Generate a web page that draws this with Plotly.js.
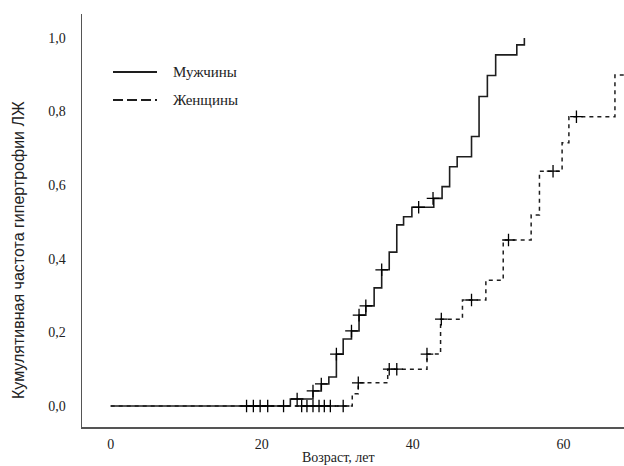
<!DOCTYPE html>
<html>
<head>
<meta charset="utf-8">
<script src="https://cdn.plot.ly/plotly-3.0.1.min.js"></script>
<style>html,body{margin:0;padding:0;background:#fff;}#chart{width:624px;height:466px;}</style>
</head>
<body>
<div id="chart"></div>
<script>
// Male cumulative curve (step points)
var maleAge = [0, 23.8, 26.8, 27.9, 28.9, 29.9, 30.8, 31.9, 32.9, 33.8, 34.9, 35.9, 36.9, 37.9, 38.8, 39.9, 42.8, 43.9, 44.9, 45.9, 47.8, 48.8, 49.9, 51.0, 53.8, 54.8];
var maleCum = [0, 0.019, 0.041, 0.060, 0.079, 0.141, 0.182, 0.204, 0.247, 0.272, 0.321, 0.370, 0.418, 0.492, 0.514, 0.540, 0.564, 0.596, 0.650, 0.677, 0.732, 0.841, 0.898, 0.954, 0.981, 1.0];
// Male censored observations
var maleCensAge = [18.0, 18.9, 19.8, 20.8, 22.9, 24.7, 26.8, 27.9, 29.9, 31.9, 32.9, 33.8, 35.9, 40.8, 42.7];
var maleCensVal = [0, 0, 0, 0, 0, 0.019, 0.041, 0.060, 0.141, 0.204, 0.247, 0.272, 0.370, 0.540, 0.564];
// Female cumulative curve (step points)
var femAge = [0, 32.0, 32.8, 36.7, 41.9, 43.7, 46.6, 49.7, 52.0, 55.7, 56.8, 59.8, 60.7, 66.8, 68.0];
var femCum = [0, 0.033, 0.063, 0.100, 0.141, 0.236, 0.288, 0.342, 0.451, 0.519, 0.638, 0.715, 0.786, 0.899, 0.899];
// Female censored observations
var femCensAge = [25.3, 26.0, 26.8, 27.6, 28.3, 29.1, 30.8, 32.8, 36.9, 37.9, 41.9, 43.8, 47.8, 52.7, 58.6, 61.7];
var femCensVal = [0, 0, 0, 0, 0, 0, 0, 0.063, 0.100, 0.100, 0.141, 0.236, 0.288, 0.451, 0.638, 0.786];

var xTickVals = [0, 20, 40, 60];
var xTickText = ["0", "20", "40", "60"];
var yTickVals = [0, 0.2, 0.4, 0.6, 0.8, 1.0];
var yTickText = ["0,0", "0,2", "0,4", "0,6", "0,8", "1,0"];
var seriesNames = ["Мужчины", "Женщины"];
var xTitle = "Возраст, лет";
var yTitle = "Кумулятивная частота гипертрофии ЛЖ";

var serif = "'Liberation Serif', 'Times New Roman', serif";
var sans = "'Liberation Sans Narrow', 'Liberation Sans', Arial, sans-serif";
var lineCol = "#1e1e1e";

var traces = [
  {x: femAge, y: femCum, type: "scatter", mode: "lines", line: {shape: "hv", color: lineCol, width: 1.5, dash: "4px,4px"}, hoverinfo: "skip"},
  {x: femCensAge, y: femCensVal, type: "scatter", mode: "markers", marker: {symbol: "cross-thin", size: 9, line: {color: "#000", width: 1.3}}, hoverinfo: "skip"},
  {x: maleAge, y: maleCum, type: "scatter", mode: "lines", line: {shape: "hv", color: lineCol, width: 1.6}, hoverinfo: "skip"},
  {x: maleCensAge, y: maleCensVal, type: "scatter", mode: "markers", marker: {symbol: "cross-thin", size: 9, line: {color: "#000", width: 1.3}}, hoverinfo: "skip"}
];

var L = 82, R = 624, T = 14, B = 427;
function px(x){ return (x - L) / (R - L); }
function py(y){ return (B - y) / (B - T); }

var layout = {
  width: 624, height: 466,
  margin: {l: L, r: 624 - R, t: T, b: 466 - B, pad: 0},
  paper_bgcolor: "#fff", plot_bgcolor: "#fff",
  showlegend: false,
  xaxis: {
    range: [-3.8, 68.0], tickvals: xTickVals, ticktext: xTickText,
    showgrid: false, zeroline: false, showline: true, linecolor: "#555", linewidth: 1.5,
    ticks: "outside", ticklen: 4, tickcolor: "rgba(0,0,0,0)",
    tickfont: {family: serif, size: 14, color: "#222"}
  },
  yaxis: {
    range: [-0.057, 1.065], tickvals: yTickVals, ticktext: yTickText,
    showgrid: false, zeroline: false, showline: true, linecolor: "#555", linewidth: 1.5,
    ticks: "outside", ticklen: 12, tickcolor: "rgba(0,0,0,0)",
    tickfont: {family: serif, size: 14, color: "#222"}
  },
  shapes: [
    {type: "line", xref: "paper", yref: "paper", x0: px(113), x1: px(157), y0: py(72), y1: py(72), line: {color: lineCol, width: 2}},
    {type: "line", xref: "paper", yref: "paper", x0: px(113), x1: px(157), y0: py(100), y1: py(100), line: {color: lineCol, width: 2, dash: "10px,4px"}}
  ],
  annotations: [
    {xref: "paper", yref: "paper", x: px(171), y: py(72), xanchor: "left", yanchor: "middle", text: seriesNames[0], showarrow: false, font: {family: serif, size: 15, color: "#222"}},
    {xref: "paper", yref: "paper", x: px(171), y: py(100), xanchor: "left", yanchor: "middle", text: seriesNames[1], showarrow: false, font: {family: serif, size: 15, color: "#222"}},
    {xref: "paper", yref: "paper", x: px(338), y: py(457), xanchor: "center", yanchor: "middle", text: xTitle, showarrow: false, font: {family: serif, size: 14, color: "#222"}},
    {xref: "paper", yref: "paper", x: px(18), y: py(250), xanchor: "center", yanchor: "middle", textangle: -90, text: yTitle, showarrow: false, font: {family: sans, size: 16, color: "#222"}}
  ]
};

Plotly.newPlot("chart", traces, layout, {staticPlot: true, displayModeBar: false});
</script>
</body>
</html>
